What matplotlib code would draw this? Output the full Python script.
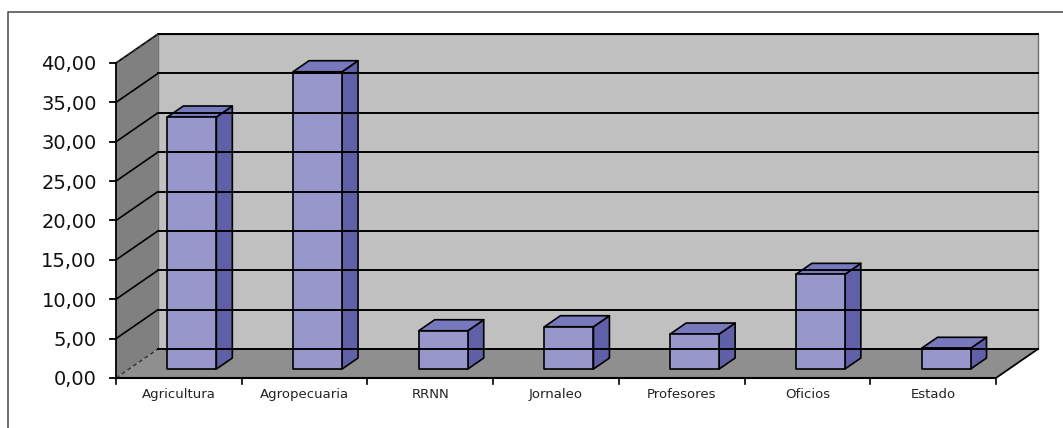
import matplotlib.pyplot as plt
from matplotlib.patches import Polygon

categorias = ["Agricultura", "Agropecuaria", "RRNN", "Jornaleo",
              "Profesores", "Oficios", "Estado"]
valores = [32.0, 37.75, 4.86, 5.37, 4.44, 12.02, 2.63]
ticks_y = [0, 5, 10, 15, 20, 25, 30, 35, 40]
ymax = 40

# oblique depth of the 3D box (in category / value units)
DX = 0.334
DY = 3.68
# bar sits between these depth fractions
F0, F1 = 0.31, 0.69
ANCHO = 0.39

C_BACK = "#c0c0c0"
C_SIDE = "#808080"
C_FLOOR = "#8f8f8f"
C_FRONT = "#9797cb"
C_RIGHT = "#6060a8"
C_TOP = "#7878bd"

fig = plt.figure(figsize=(10.63, 4.28), dpi=100)
ax = fig.add_axes([0, 0, 1, 1])
# pixel-matched limits: 125.7 px per category, 7.875 px per unit
ax.set_xlim(-116 / 125.7, (1063 - 116) / 125.7)
ax.set_ylim(-(428 - 378) / 7.875, 378 / 7.875)
ax.axis("off")

n = len(categorias)

# chart border
ax.plot([0.0075, 0.0075, 1.0], [0.0, 0.972, 0.972], transform=ax.transAxes,
        color="#555555", lw=1.2, clip_on=False)

# walls and floor
ax.add_patch(Polygon([(DX, DY), (n + DX, DY), (n + DX, ymax + DY), (DX, ymax + DY)],
                     closed=True, fc=C_BACK, ec="#707070", lw=1.0))
ax.add_patch(Polygon([(0, 0), (DX, DY), (DX, ymax + DY), (0, ymax)],
                     closed=True, fc=C_SIDE, ec="none"))
ax.add_patch(Polygon([(0, 0), (n, 0), (n + DX, DY), (DX, DY)],
                     closed=True, fc=C_FLOOR, ec="none"))

# gridlines on back and side walls
for v in ticks_y[1:]:
    ax.plot([DX, n + DX], [v + DY, v + DY], color="black", lw=1.4)
    ax.plot([0, DX], [v, v + DY], color="black", lw=1.2)
ax.plot([0, DX], [0, DY], color="#333333", lw=1.0, ls=(0, (3, 2)))
ax.plot([0, DX], [ymax, ymax + DY], color="#333333", lw=1.0, ls=(0, (3, 2)))
ax.plot([DX, n + DX], [DY, DY], color="black", lw=1.4)

# floor edges
ax.plot([0, n], [0, 0], color="black", lw=1.5)
ax.plot([n, n + DX], [0, DY], color="black", lw=1.3)

# y axis and ticks
ax.plot([0, 0], [0, ymax], color="black", lw=1.3)
for v in ticks_y:
    ax.plot([-0.05, 0], [v, v], color="black", lw=1.3)
    ax.text(-0.153, v - 0.25, f"{v:.2f}".replace(".", ","), ha="right",
            va="center", fontsize=14, family="DejaVu Sans", color="#111111")

# x ticks and category labels
for i in range(n + 1):
    ax.plot([i, i], [0, -0.8], color="black", lw=1.2)
for i, c in enumerate(categorias):
    ax.text(i + 0.5, -2.05, c, ha="center", va="center", fontsize=9.5,
            family="DejaVu Sans", color="#222222")

# 3D bars
for i, v in enumerate(valores):
    x0 = i + 0.5 - ANCHO / 2 + F0 * DX
    x1 = x0 + ANCHO
    y0 = F0 * DY
    ddx = (F1 - F0) * DX
    ddy = (F1 - F0) * DY
    top = y0 + v
    ax.add_patch(Polygon([(x1, y0), (x1 + ddx, y0 + ddy), (x1 + ddx, top + ddy), (x1, top)],
                         closed=True, fc=C_RIGHT, ec="black", lw=1.2, joinstyle="round"))
    ax.add_patch(Polygon([(x0, top), (x1, top), (x1 + ddx, top + ddy), (x0 + ddx, top + ddy)],
                         closed=True, fc=C_TOP, ec="black", lw=1.2, joinstyle="round"))
    ax.add_patch(Polygon([(x0, y0), (x1, y0), (x1, top), (x0, top)],
                         closed=True, fc=C_FRONT, ec="black", lw=1.2, joinstyle="round"))

fig.savefig("out.png", dpi=100)
